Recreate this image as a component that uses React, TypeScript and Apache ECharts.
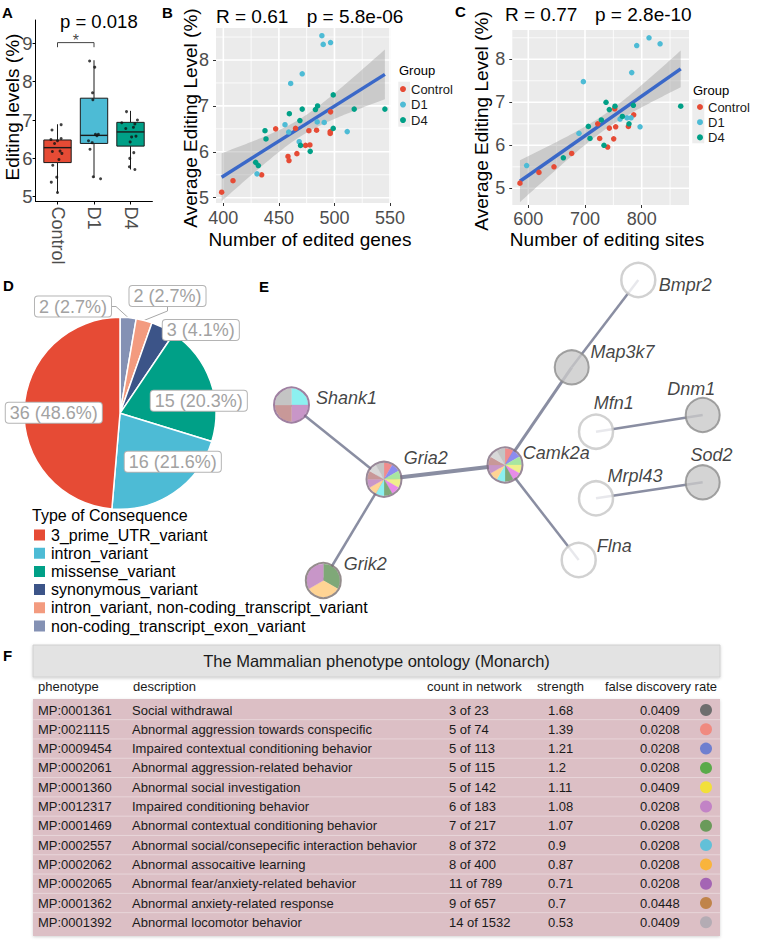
import React, { useEffect, useRef } from 'react';
import * as echarts from 'echarts';

const FONT = '"Liberation Sans", Arial, Helvetica, sans-serif';

// ---------------- Panel A: editing levels box plot ----------------
const groupNames = ['Control', 'D1', 'D4'];
const groupColors = ['#E64B35', '#4DBBD5', '#00A087'];
const boxWhiskerLow = [5.11, 5.49, 5.71];
const boxQ1 = [5.89, 6.39, 6.32];
const boxMedian = [6.28, 6.6, 6.69];
const boxQ3 = [6.48, 7.57, 6.94];
const boxWhiskerHigh = [6.89, 8.56, 7.24];
const jitterControlLevel = [6.88, 6.74, 6.49, 6.46, 6.52, 6.39, 6.18, 6.19, 5.97, 5.82, 6.13, 5.51, 5.38, 5.11];
const jitterControlShift = [0.1, -0.15, -0.18, 0.0, 0.1, -0.08, -0.14, 0.07, 0.04, -0.13, 0.12, -0.02, -0.17, 0.0];
const jitterD1Level = [8.54, 8.38, 7.71, 7.53, 6.63, 6.63, 6.59, 6.46, 6.41, 6.24, 5.52, 5.47];
const jitterD1Shift = [-0.12, 0.02, -0.04, -0.03, 0.04, 0.12, 0.08, -0.15, -0.05, -0.11, -0.02, 0.18];
const jitterD4Level = [7.22, 6.93, 7.0, 6.9, 6.81, 6.78, 6.56, 6.58, 6.43, 6.15, 6.0, 5.78, 5.71];
const jitterD4Shift = [-0.11, -0.24, 0.19, 0.12, 0.08, -0.13, 0.03, 0.15, -0.01, 0.09, -0.02, -0.03, 0.12];
const aYTicks = [5, 6, 7, 8, 9];
const aPValue = 'p = 0.018';
const sigBracket = { from: 1, to: 2, y: 9.02, tip: 8.9, label: '*' };

// ---------------- Panel B: level vs edited genes ----------------
const bControlGenes = [398.5, 408.7, 434.5, 447.1, 458.2, 459.1, 466.2, 465.0, 474.0, 477.9, 477.0, 483.9, 496.5, 496.2, 496.2];
const bControlLevel = [5.12, 5.37, 5.5, 6.5, 5.9, 5.81, 5.96, 6.51, 6.14, 6.15, 6.46, 6.47, 6.87, 6.44, 6.4];
const bD1Genes = [430.3, 460.6, 471.0, 488.7, 489.9, 496.5, 455.5, 458.8, 468.3, 484.5, 490.8, 511.5];
const bD1Level = [5.52, 7.49, 7.7, 8.53, 8.34, 8.38, 6.59, 6.43, 6.22, 6.65, 6.64, 6.44];
const bD4Genes = [429.1, 431.5, 437.5, 438.4, 459.4, 471.0, 468.9, 469.5, 478.2, 482.9, 484.8, 498.9, 498.9, 517.8, 545.4];
const bD4Level = [5.77, 5.7, 6.46, 6.28, 6.83, 6.93, 6.68, 6.14, 6.01, 6.92, 7.0, 7.24, 6.51, 6.93, 6.93];
const bXTicks = [400, 450, 500, 550];
const bXMinor = [425, 475, 525];
const bYTicks = [5, 6, 7, 8];
const bYMinor = [5.5, 6.5, 7.5, 8.5];
const bStatR = 'R = 0.61';
const bStatP = 'p = 5.8e-06';

// ---------------- Panel C: level vs editing sites ----------------
const cControlSites = [585.3, 618.8, 645.3, 676.5, 722.4, 725.9, 740.0, 742.9, 750.6, 754.1, 752.4, 776.5, 785.9];
const cControlLevel = [5.12, 5.37, 5.5, 5.81, 6.5, 6.16, 5.96, 6.4, 6.15, 6.43, 6.85, 6.44, 6.71];
const cD1Sites = [597.1, 689.4, 697.1, 782.4, 791.2, 812.9, 832.4, 761.8, 774.1, 781.2, 797.1];
const cD1Level = [5.53, 6.28, 7.48, 7.69, 8.32, 8.5, 8.36, 6.61, 6.64, 6.64, 6.43];
const cD4Sites = [661.8, 705.9, 708.8, 728.8, 733.5, 737.1, 742.9, 752.9, 765.9, 777.6, 785.3, 868.8];
const cD4Level = [5.71, 6.44, 6.16, 6.59, 6.0, 7.0, 6.83, 6.91, 6.67, 6.5, 6.93, 6.91];
const cXTicks = [600, 700, 800];
const cXMinor = [650, 750, 850];
const cYTicks = [5, 6, 7, 8];
const cYMinor = [5.5, 6.5, 7.5, 8.5];
const cStatR = 'R = 0.77';
const cStatP = 'p = 2.8e-10';

// ---------------- Panel D: consequence pie ----------------
const consequenceTypes = [
  '3_prime_UTR_variant',
  'intron_variant',
  'missense_variant',
  'synonymous_variant',
  'intron_variant, non-coding_transcript_variant',
  'non-coding_transcript_exon_variant',
];
const consequenceCounts = [36, 16, 15, 3, 2, 2];
const consequenceColors = ['#E64B35', '#4DBBD5', '#00A087', '#3C5488', '#F39B7F', '#8491B4'];
const pieDrawOrder = [5, 4, 3, 2, 1, 0];

// ---------------- Panel E: STRING network ----------------
const geneNames = ['Bmpr2', 'Map3k7', 'Camk2a', 'Gria2', 'Shank1', 'Grik2', 'Flna', 'Mfn1', 'Dnm1', 'Mrpl43', 'Sod2'];
const geneKind = ['white', 'gray', 'pie', 'pie', 'pie', 'pie', 'white', 'white', 'gray', 'white', 'gray'];
const genePhenotypes = [
  [], [],
  [1, 2, 3, 4, 5, 6, 7, 8, 9, 10, 11, 0],
  [1, 2, 3, 4, 5, 6, 7, 8, 9, 10, 11, 0],
  [7, 9, 10, 0],
  [6, 8, 9],
  [], [], [], [], [],
];
const edgePairs = [[0, 1], [1, 2], [2, 3], [2, 6], [3, 4], [3, 5], [7, 8], [9, 10]];
const edgeWeights = [2.5, 3, 4, 2.5, 2.5, 2.5, 2.5, 2.5];

// ---------------- Panel F: phenotype table ----------------
const tableTitle = 'The Mammalian phenotype ontology (Monarch)';
const tableHeaders = ['phenotype', 'description', 'count in network', 'strength', 'false discovery rate'];
const phenotypeIds = ['MP:0001361', 'MP:0021115', 'MP:0009454', 'MP:0002061', 'MP:0001360', 'MP:0012317', 'MP:0001469', 'MP:0002557', 'MP:0002062', 'MP:0002065', 'MP:0001362', 'MP:0001392'];
const phenotypeDescriptions = [
  'Social withdrawal',
  'Abnormal aggression towards conspecific',
  'Impaired contextual conditioning behavior',
  'Abnormal aggression-related behavior',
  'Abnormal social investigation',
  'Impaired conditioning behavior',
  'Abnormal contextual conditioning behavior',
  'Abnormal social/consepecific interaction behavior',
  'Abnormal assocaitive learning',
  'Abnormal fear/anxiety-related behavior',
  'Abnormal anxiety-related response',
  'Abnormal locomotor behavior',
];
const countsInNetwork = ['3 of 23', '5 of 74', '5 of 113', '5 of 115', '5 of 142', '6 of 183', '7 of 217', '8 of 372', '8 of 400', '11 of 789', '9 of 657', '14 of 1532'];
const strengths = ['1.68', '1.39', '1.21', '1.2', '1.11', '1.08', '1.07', '0.9', '0.87', '0.71', '0.7', '0.53'];
const fdrs = ['0.0409', '0.0208', '0.0208', '0.0208', '0.0409', '0.0208', '0.0208', '0.0208', '0.0208', '0.0208', '0.0448', '0.0409'];
const phenotypeColors = ['#6E6E6E', '#F08A80', '#6F7FCF', '#5AAA4A', '#F2E03A', '#C283C6', '#6A9A5A', '#62C0D8', '#F9B43C', '#A465B4', '#C0844A', '#B4ACB4'];

// ---------------- layout / style (not data) ----------------
const nodeLayoutX = [638.3, 571.7, 505.0, 384.0, 291.5, 323.3, 578.7, 596.0, 702.7, 596.0, 702.7];
const nodeLayoutY = [280.0, 367.3, 465.0, 479.3, 405.0, 580.5, 560.0, 431.7, 415.0, 498.3, 482.3];
const nodeLabelShift = [[-2.8, 5], [-4.2, -15], [-5.8, -12.5], [-3.8, -21], [1, -7.5], [-3.1, -17], [-5.2, -14.5], [-25.5, -29], [-58.5, -26], [-11.8, -22], [-35.2, -27]];
const nodeWedgeColors = ['#C4C4C4', '#F08C8C', '#8C8CF0', '#A8E6A0', '#F0F08C', '#E88CE8', '#7FA878', '#8CF0F0', '#FFD494', '#C896C8', '#C89898', '#D8D8D8'];
const nodeRingColors: Record<string, string> = { Camk2a: '#7F6C80', Gria2: '#7F6C80', Shank1: '#87608A', Grik2: '#7A7070' };
const pieLabelCenters = [[73, 306.5], [167.5, 296], [200.8, 330], [198.8, 400.8], [172.8, 461.8], [53.8, 412.8]];

function linearFit(xs: number[], ys: number[], t: number) {
  const n = xs.length;
  const mx = xs.reduce((a, b) => a + b, 0) / n;
  const my = ys.reduce((a, b) => a + b, 0) / n;
  let sxx = 0, sxy = 0;
  for (let i = 0; i < n; i++) { sxx += (xs[i] - mx) ** 2; sxy += (xs[i] - mx) * (ys[i] - my); }
  const b = sxy / sxx;
  const a = my - b * mx;
  let sse = 0;
  for (let i = 0; i < n; i++) sse += (ys[i] - a - b * xs[i]) ** 2;
  const s = Math.sqrt(sse / (n - 2));
  const xmin = Math.min(...xs), xmax = Math.max(...xs);
  const band: number[][] = [];
  for (let k = 0; k <= 80; k++) {
    const x = xmin + ((xmax - xmin) * k) / 80;
    const yh = a + b * x;
    const se = s * Math.sqrt(1 / n + (x - mx) ** 2 / sxx);
    band.push([x, yh - t * se, yh + t * se]);
  }
  return { a, b, xmin, xmax, band };
}

function buildOption() {
  const tickLabel = { color: '#4D4D4D', fontSize: 18, fontFamily: FONT };

  // ---- A series
  const jitterLevels = [jitterControlLevel, jitterD1Level, jitterD4Level];
  const jitterShifts = [jitterControlShift, jitterD1Shift, jitterD4Shift];
  const jitterData: number[][] = [];
  jitterLevels.forEach((lv, gi) => lv.forEach((v, k) => jitterData.push([gi + 1 + jitterShifts[gi][k], v])));

  const aSeries: any[] = [
    {
      type: 'custom', name: 'A-box', xAxisIndex: 0, yAxisIndex: 0, z: 2, silent: true,
      data: groupNames.map((_, i) => [i + 1, boxWhiskerLow[i], boxQ1[i], boxMedian[i], boxQ3[i], boxWhiskerHigh[i]]),
      encode: { x: 0, y: [1, 2, 3, 4, 5] },
      renderItem: (params: any, api: any) => {
        const x = api.value(0);
        const half = api.size([0.75, 0])[0] / 2;
        const lo = api.coord([x, api.value(1)]);
        const q1 = api.coord([x, api.value(2)]);
        const md = api.coord([x, api.value(3)]);
        const q3 = api.coord([x, api.value(4)]);
        const hi = api.coord([x, api.value(5)]);
        const st = { stroke: '#1A1A1A', lineWidth: 1 };
        return {
          type: 'group',
          children: [
            { type: 'line', shape: { x1: lo[0], y1: lo[1], x2: q1[0], y2: q1[1] }, style: st },
            { type: 'line', shape: { x1: q3[0], y1: q3[1], x2: hi[0], y2: hi[1] }, style: st },
            { type: 'rect', shape: { x: q3[0] - half, y: q3[1], width: 2 * half, height: q1[1] - q3[1] }, style: { fill: groupColors[params.dataIndex], stroke: '#1A1A1A', lineWidth: 1 } },
            { type: 'line', shape: { x1: md[0] - half, y1: md[1], x2: md[0] + half, y2: md[1] }, style: { stroke: '#1A1A1A', lineWidth: 1.4 } },
          ],
        };
      },
    },
    {
      type: 'scatter', name: 'A-points', xAxisIndex: 0, yAxisIndex: 0, z: 3, silent: true,
      symbolSize: 3, itemStyle: { color: '#111' }, data: jitterData,
    },
    {
      type: 'line', name: 'A-bracket', xAxisIndex: 0, yAxisIndex: 0, z: 3, silent: true, showSymbol: false,
      lineStyle: { color: '#444', width: 1 },
      data: [[sigBracket.from, sigBracket.tip], [sigBracket.from, sigBracket.y], [sigBracket.to, sigBracket.y], [sigBracket.to, sigBracket.tip]],
    },
    {
      type: 'scatter', name: 'A-star', xAxisIndex: 0, yAxisIndex: 0, z: 3, silent: true, symbolSize: 0,
      data: [[(sigBracket.from + sigBracket.to) / 2, sigBracket.y]],
      label: { show: true, formatter: sigBracket.label, position: 'inside', offset: [0, -2], fontSize: 16, color: '#111', fontFamily: FONT },
    },
  ];

  // ---- B / C panels
  function panelSeries(idx: number, xs: number[][], ys: number[][], xMajor: number[], xMinor: number[], yMajor: number[], yMinor: number[]) {
    const fit = linearFit(xs.flat(), ys.flat(), 2.02);
    const gridData: number[][] = [
      ...xMinor.map((v) => [v, v, 0, 0]),
      ...yMinor.map((v) => [v, v, 1, 0]),
      ...xMajor.map((v) => [v, v, 0, 1]),
      ...yMajor.map((v) => [v, v, 1, 1]),
    ];
    const out: any[] = [
      {
        type: 'custom', name: 'grid' + idx, xAxisIndex: idx, yAxisIndex: idx, z: 1, silent: true, data: gridData,
        renderItem: (params: any, api: any) => {
          const cs = params.coordSys;
          const v = api.value(0);
          const p = api.coord([v, v]);
          const w = api.value(3) === 1 ? 1.6 : 0.8;
          if (api.value(2) === 0) {
            return { type: 'line', shape: { x1: p[0], y1: cs.y, x2: p[0], y2: cs.y + cs.height }, style: { stroke: '#FFFFFF', lineWidth: w } };
          }
          return { type: 'line', shape: { x1: cs.x, y1: p[1], x2: cs.x + cs.width, y2: p[1] }, style: { stroke: '#FFFFFF', lineWidth: w } };
        },
      },
      {
        type: 'custom', name: 'band' + idx, xAxisIndex: idx, yAxisIndex: idx, z: 2, silent: true, clip: true,
        data: [[fit.xmin, fit.a + fit.b * fit.xmin]],
        renderItem: (params: any, api: any) => {
          const upper = fit.band.map((p) => api.coord([p[0], p[2]]));
          const lower = fit.band.slice().reverse().map((p) => api.coord([p[0], p[1]]));
          return { type: 'polygon', shape: { points: upper.concat(lower) }, style: { fill: 'rgba(153,153,153,0.4)' } };
        },
      },
      {
        type: 'line', name: 'fit' + idx, xAxisIndex: idx, yAxisIndex: idx, z: 3, silent: true, showSymbol: false,
        lineStyle: { color: '#3A68C8', width: 3.5 },
        data: [[fit.xmin, fit.a + fit.b * fit.xmin], [fit.xmax, fit.a + fit.b * fit.xmax]],
      },
    ];
    groupNames.forEach((g, gi) => {
      out.push({
        type: 'scatter', name: g, xAxisIndex: idx, yAxisIndex: idx, z: 4, silent: true, symbolSize: 5.5,
        itemStyle: { color: groupColors[gi], opacity: 1 },
        data: xs[gi].map((x, k) => [x, ys[gi][k]]),
      });
    });
    return out;
  }

  const bSeries = panelSeries(1, [bControlGenes, bD1Genes, bD4Genes], [bControlLevel, bD1Level, bD4Level], bXTicks, bXMinor, bYTicks, bYMinor);
  const cSeries = panelSeries(2, [cControlSites, cD1Sites, cD4Sites], [cControlLevel, cD1Level, cD4Level], cXTicks, cXMinor, cYTicks, cYMinor);

  // ---- D pie
  const total = consequenceCounts.reduce((a, b) => a + b, 0);
  const pieSeries = {
    type: 'pie', name: 'consequence', center: [120, 413.3], radius: 96, startAngle: 90, clockwise: true,
    avoidLabelOverlap: false, silent: true, z: 3,
    itemStyle: { borderColor: '#FFFFFF', borderWidth: 1.5 },
    data: pieDrawOrder.map((i, k) => ({
      name: consequenceTypes[i],
      value: consequenceCounts[i],
      itemStyle: { color: consequenceColors[i] },
      labelLine: { show: k < 2 },
    })),
    label: {
      show: true,
      formatter: (p: any) => `${p.value} (${((p.value / total) * 100).toFixed(1)}%)`,
      fontSize: 18, fontFamily: FONT, color: '#A2A2A2',
      backgroundColor: '#FFFFFF', borderColor: '#B4B4B4', borderWidth: 1, borderRadius: 3, padding: [1, 4],
    },
    labelLine: { length: 4, length2: 4, lineStyle: { color: '#A8A8A8', width: 1 } },
    labelLayout: (params: any) => ({
      x: pieLabelCenters[params.dataIndex][0],
      y: pieLabelCenters[params.dataIndex][1],
      align: 'center',
      verticalAlign: 'middle',
    }),
  };

  // ---- E network
  const edgeData = edgePairs.map(([a, b], k) => ({
    coords: [[nodeLayoutX[a], nodeLayoutY[a]], [nodeLayoutX[b], nodeLayoutY[b]]],
    lineStyle: { width: edgeWeights[k] },
  }));
  const nodeLabel = (i: number) => ({
    show: true, position: 'right', distance: 5, offset: nodeLabelShift[i],
    formatter: geneNames[i], fontSize: 18, fontStyle: 'italic', color: '#111', fontFamily: FONT,
  });
  const plainNodes: any[] = [];
  const ringNodes: any[] = [];
  geneNames.forEach((g, i) => {
    const kind = geneKind[i];
    if (kind === 'pie') {
      ringNodes.push({
        name: g, value: [nodeLayoutX[i], nodeLayoutY[i]],
        itemStyle: { color: 'rgba(0,0,0,0)', borderColor: nodeRingColors[g], borderWidth: 2 },
        label: nodeLabel(i),
      });
    } else {
      plainNodes.push({
        name: g, value: [nodeLayoutX[i], nodeLayoutY[i]],
        itemStyle: kind === 'gray'
          ? { color: '#C9C9C9', borderColor: '#8C8C8C', borderWidth: 2 }
          : { color: '#FFFFFF', borderColor: '#C6C6C6', borderWidth: 2.5 },
        label: nodeLabel(i),
      });
    }
  });
  const wedgeData: number[][] = [];
  geneNames.forEach((g, gi) => {
    const ph = genePhenotypes[gi];
    ph.forEach((c, k) => wedgeData.push([nodeLayoutX[gi], nodeLayoutY[gi], k / ph.length, (k + 1) / ph.length, c]));
  });
  const netSeries: any[] = [
    {
      type: 'lines', name: 'edges', coordinateSystem: 'cartesian2d', xAxisIndex: 3, yAxisIndex: 3, z: 2, silent: true,
      lineStyle: { color: '#8A8EA2', opacity: 1 }, data: edgeData,
    },
    {
      type: 'scatter', name: 'nodes', xAxisIndex: 3, yAxisIndex: 3, z: 3, silent: true, symbolSize: 34, data: plainNodes,
    },
    {
      type: 'custom', name: 'wedges', xAxisIndex: 3, yAxisIndex: 3, z: 3, silent: true, data: wedgeData,
      renderItem: (params: any, api: any) => {
        const c = api.coord([api.value(0), api.value(1)]);
        const s = -Math.PI / 2 + 2 * Math.PI * api.value(2);
        const e = -Math.PI / 2 + 2 * Math.PI * api.value(3);
        const col = nodeWedgeColors[api.value(4)];
        return { type: 'sector', shape: { cx: c[0], cy: c[1], r: 16.5, r0: 0, startAngle: s, endAngle: e, clockwise: true }, style: { fill: col, stroke: col, lineWidth: 0.3 } };
      },
    },
    {
      type: 'scatter', name: 'pienodes', xAxisIndex: 3, yAxisIndex: 3, z: 4, silent: true, symbolSize: 35, data: ringNodes,
    },
  ];

  // ---- graphic (titles, labels, table)
  const txt = (x: number, y: number, text: string, o: any = {}) => ({
    type: 'text', x, y, silent: true, rotation: o.rotation || 0,
    style: {
      text, fill: o.fill || '#000', fontSize: o.fontSize || 18, fontFamily: FONT,
      fontWeight: o.fontWeight || 'normal', fontStyle: o.fontStyle || 'normal',
      align: o.align || 'left', verticalAlign: 'middle',
    },
  });
  const graphics: any[] = [
    txt(2, 12, 'A', { fontSize: 15, fontWeight: 'bold' }),
    txt(162, 12.5, 'B', { fontSize: 15, fontWeight: 'bold' }),
    txt(455, 11, 'C', { fontSize: 15, fontWeight: 'bold' }),
    txt(3, 285, 'D', { fontSize: 15, fontWeight: 'bold' }),
    txt(259, 286, 'E', { fontSize: 15, fontWeight: 'bold' }),
    txt(3, 655, 'F', { fontSize: 15, fontWeight: 'bold' }),
    txt(60, 21, aPValue, { fontSize: 18.5 }),
    txt(12, 107, 'Editing levels (%)', { fontSize: 19, align: 'center', rotation: Math.PI / 2 }),
    txt(216, 16, bStatR, { fontSize: 19 }),
    txt(306.7, 16, bStatP, { fontSize: 19 }),
    txt(190.5, 118, 'Average Editing Level (%)', { fontSize: 19, align: 'center', rotation: Math.PI / 2 }),
    txt(310, 239.5, 'Number of edited genes', { fontSize: 19, align: 'center' }),
    txt(505, 14, cStatR, { fontSize: 19 }),
    txt(595, 14, cStatP, { fontSize: 19 }),
    txt(481, 121, 'Average Editing Level (%)', { fontSize: 19, align: 'center', rotation: Math.PI / 2 }),
    txt(607, 239.5, 'Number of editing sites', { fontSize: 19, align: 'center' }),
    { type: 'rect', silent: true, z: 0, shape: { x: 398.3, y: 81.7, width: 11.7, height: 45 }, style: { fill: '#EDEDED' } },
    { type: 'rect', silent: true, z: 0, shape: { x: 692.3, y: 99.3, width: 12, height: 44 }, style: { fill: '#EDEDED' } },
    txt(399, 70, 'Group', { fontSize: 13 }),
    txt(693, 90, 'Group', { fontSize: 13 }),
    txt(32, 515, 'Type of Consequence', { fontSize: 16 }),
  ];

  // table
  const tLeft = 33, tRight = 720;
  const rowH = 19.3, row0 = 710;
  graphics.push({
    type: 'rect', silent: true, shape: { x: tLeft, y: 645, width: tRight - tLeft, height: 32 },
    style: { fill: '#E3E3E3', stroke: '#D0D0D0', lineWidth: 1, shadowBlur: 3, shadowColor: 'rgba(0,0,0,0.18)', shadowOffsetY: 1 },
  });
  graphics.push(txt((tLeft + tRight) / 2, 661, tableTitle, { fontSize: 16.5, align: 'center', fill: '#1A1A1A' }));
  const headerX = [38, 133, 427, 537, 605];
  tableHeaders.forEach((h, k) => graphics.push(txt(headerX[k], 686.7, h, { fontSize: 13, fill: '#1A1A1A' })));
  graphics.push({
    type: 'rect', silent: true, shape: { x: tLeft, y: 699, width: tRight - tLeft, height: 237 },
    style: { fill: '#DCBFC5', shadowBlur: 3, shadowColor: 'rgba(0,0,0,0.18)', shadowOffsetY: 1 },
  });
  for (let i = 1; i < phenotypeIds.length; i++) {
    const y = row0 - rowH / 2 + i * rowH;
    graphics.push({ type: 'line', silent: true, shape: { x1: tLeft, y1: y, x2: tRight, y2: y }, style: { stroke: 'rgba(255,255,255,0.35)', lineWidth: 1 } });
  }
  phenotypeIds.forEach((id, i) => {
    const y = row0 + i * rowH;
    graphics.push(txt(38, y, id, { fontSize: 13, fill: '#1A1A1A' }));
    graphics.push(txt(132, y, phenotypeDescriptions[i], { fontSize: 13, fill: '#1A1A1A' }));
    graphics.push(txt(449, y, countsInNetwork[i], { fontSize: 13, fill: '#1A1A1A' }));
    graphics.push(txt(548, y, strengths[i], { fontSize: 13, fill: '#1A1A1A' }));
    graphics.push(txt(640, y, fdrs[i], { fontSize: 13, fill: '#1A1A1A' }));
    graphics.push({ type: 'circle', silent: true, shape: { cx: 706, cy: y, r: 6 }, style: { fill: phenotypeColors[i] } });
  });

  const ggTick = { show: true, length: 3, lineStyle: { color: '#333', width: 1 } };

  return {
    animation: false,
    backgroundColor: '#FFFFFF',
    textStyle: { fontFamily: FONT },
    grid: [
      { left: 35.6, top: 20, width: 116.8, height: 181.5 },
      { left: 216, top: 28, width: 175, height: 175, show: true, backgroundColor: '#EBEBEB', borderWidth: 0 },
      { left: 512.3, top: 30, width: 176.7, height: 175, show: true, backgroundColor: '#EBEBEB', borderWidth: 0 },
      { left: 0, top: 0, width: 760, height: 947 },
    ],
    xAxis: [
      {
        gridIndex: 0, type: 'value', min: 0.4, max: 3.6,
        axisLine: { show: true, onZero: false, lineStyle: { color: '#000', width: 1 } },
        axisTick: { ...ggTick, customValues: [1, 2, 3], lineStyle: { color: '#000', width: 1 } },
        axisLabel: { ...tickLabel, customValues: [1, 2, 3], rotate: -90, margin: 5, formatter: (v: number) => groupNames[Math.round(v) - 1] },
        splitLine: { show: false },
      },
      {
        gridIndex: 1, type: 'value', min: 393.4, max: 550.9,
        axisLine: { show: false }, axisTick: { ...ggTick, customValues: bXTicks },
        axisLabel: { ...tickLabel, customValues: bXTicks, margin: 6 }, splitLine: { show: false },
      },
      {
        gridIndex: 2, type: 'value', min: 571.8, max: 883.4,
        axisLine: { show: false }, axisTick: { ...ggTick, customValues: cXTicks },
        axisLabel: { ...tickLabel, customValues: cXTicks, margin: 5 }, splitLine: { show: false },
      },
      { gridIndex: 3, type: 'value', min: 0, max: 760, show: false },
    ],
    yAxis: [
      {
        gridIndex: 0, type: 'value', min: 4.875, max: 9.61,
        axisLine: { show: true, onZero: false, lineStyle: { color: '#000', width: 1 } },
        axisTick: { ...ggTick, customValues: aYTicks, lineStyle: { color: '#000', width: 1 } },
        axisLabel: { ...tickLabel, fontSize: 18.5, customValues: aYTicks, margin: 3 },
        splitLine: { show: false },
      },
      {
        gridIndex: 1, type: 'value', min: 4.885, max: 8.697,
        axisLine: { show: false }, axisTick: { ...ggTick, customValues: bYTicks },
        axisLabel: { ...tickLabel, customValues: bYTicks, margin: 7 }, splitLine: { show: false },
      },
      {
        gridIndex: 2, type: 'value', min: 4.612, max: 8.681,
        axisLine: { show: false }, axisTick: { ...ggTick, customValues: cYTicks },
        axisLabel: { ...tickLabel, customValues: cYTicks, margin: 7 }, splitLine: { show: false },
      },
      { gridIndex: 3, type: 'value', min: 0, max: 947, inverse: true, show: false },
    ],
    legend: [
      {
        data: groupNames, orient: 'vertical', left: 400, top: 81.3, padding: 0, itemWidth: 6, itemHeight: 6, itemGap: 0,
        icon: 'circle', selectedMode: false, textStyle: { fontSize: 13, lineHeight: 15.5, color: '#1A1A1A', fontFamily: FONT },
      },
      {
        data: groupNames, orient: 'vertical', left: 697, top: 99.4, padding: 0, itemWidth: 6, itemHeight: 6, itemGap: 0,
        icon: 'circle', selectedMode: false, textStyle: { fontSize: 13, lineHeight: 15.2, color: '#1A1A1A', fontFamily: FONT },
      },
      {
        data: consequenceTypes, orient: 'vertical', left: 32, top: 527, padding: 0, itemWidth: 13, itemHeight: 13, itemGap: 2.2,
        icon: 'rect', selectedMode: false, textStyle: { fontSize: 16, lineHeight: 16, color: '#000', fontFamily: FONT },
      },
    ],
    graphic: graphics,
    series: [...aSeries, ...bSeries, ...cSeries, pieSeries, ...netSeries],
  };
}

export default function App() {
  const ref = useRef<HTMLDivElement>(null);
  useEffect(() => {
    if (!ref.current) return;
    const chart = echarts.init(ref.current, undefined, { renderer: 'svg' });
    chart.setOption(buildOption() as any);
    return () => chart.dispose();
  }, []);
  return <div ref={ref} style={{ position: 'absolute', left: 0, top: 0, width: 760, height: 947, background: '#fff' }} />;
}
